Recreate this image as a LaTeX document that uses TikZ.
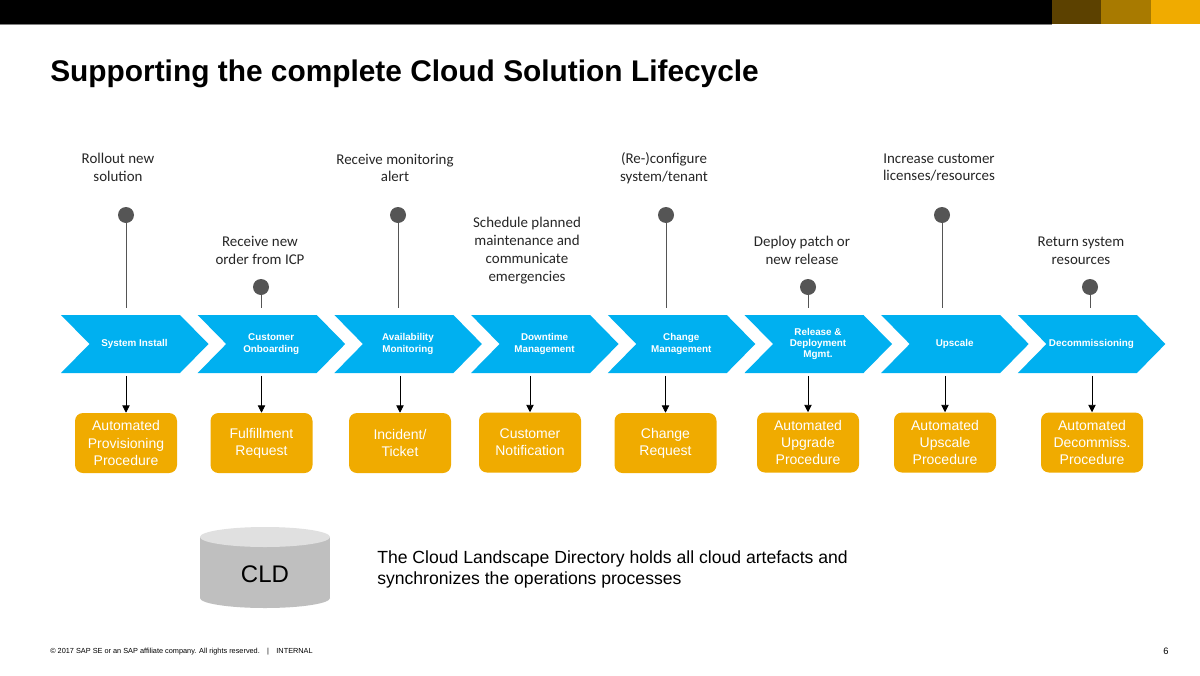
\documentclass[tikz,border=0pt]{standalone}
\usepackage{fontspec}
\setmainfont{Liberation Sans}
\newfontfamily\labelfont{Carlito}
\usetikzlibrary{positioning, arrows.meta}

\definecolor{sapblue}{HTML}{00B0F0}
\definecolor{sapgold}{HTML}{F0AB00}
\definecolor{sapbrown}{HTML}{5C4100}
\definecolor{sapochre}{HTML}{A87A00}
\definecolor{knobgrey}{HTML}{555555}
\definecolor{textgrey}{HTML}{262626}
\definecolor{cylbody}{HTML}{BFBFBF}
\definecolor{cyltop}{HTML}{E0E0E0}

\begin{document}
\begin{tikzpicture}[
        x=0.75pt, y=-0.75pt,
        chevron/.style={fill=sapblue},
        phase/.style={text=white, font=\bfseries\fontsize{7.4}{8.4}\selectfont, align=center,
                minimum width=67.5pt, minimum height=43.5pt, inner sep=0pt},
        task/.style={fill=sapgold, rounded corners=6pt, minimum width=76.5pt, minimum height=45pt,
                text=white, font=\fontsize{10.5}{12.8}\selectfont, align=center, inner sep=0pt},
        trigger/.style={font=\labelfont\fontsize{11.2}{13.3}\selectfont, text=textgrey, align=center},
        knob/.style={circle, fill=knobgrey, minimum size=12pt, inner sep=0pt},
        stem/.style={draw=knobgrey, line width=0.6pt, shorten >=5pt},
        feeds/.style={-{Triangle[width=5.5pt,length=5.5pt]}, line width=0.6pt, shorten <=2pt}
    ]

    \useasboundingbox (0,0) rectangle (1200,675);
    \fill[white] (0,0) rectangle (1200,675);

    % header bar
    \fill[black] (0,0) rectangle (1052,24);
    \fill[sapbrown] (1052,0) rectangle (1101,24);
    \fill[sapochre] (1101,0) rectangle (1151,24);
    \fill[sapgold] (1151,0) rectangle (1200,24);
    \draw[gray, line width=0.6pt] (0,24.3) -- (1052,24.3);

    \node[anchor=base west, inner sep=0pt, font=\bfseries\fontsize{22.4}{26}\selectfont] (title) at (50,81)
        {Supporting the complete Cloud Solution Lifecycle};

    % chevron outlines
    \foreach \i in {0,...,7} {
        \fill[chevron] ({61+136.7*\i},315) -- ++(119,0) -- ++(28.5,29) -- ++(-28.5,29)
            -- ++(-119,0) -- ++(28.5,-29) -- cycle;
    }

    % phases
    \node[phase] (install) at (134.5,344) {System Install};
    \node[phase] (onboard) at (271.2,344) {Customer\\Onboarding};
    \node[phase] (monitor) at (407.9,344) {Availability\\Monitoring};
    \node[phase] (downtime) at (544.6,344) {Downtime\\Management};
    \node[phase] (change) at (681.3,344) {Change\\Management};
    \node[phase] (release) at (818,344) {Release \&\\Deployment\\Mgmt.};
    \node[phase] (upscale) at (954.7,344) {Upscale};
    \node[phase] (decomm) at (1091.4,344) {Decommissioning};

    % procedures below the phases
    \node[task] (install-task) at (126,443) {Automated\\Provisioning\\Procedure};
    \node[task] (onboard-task) at (261.5,443) {Fulfillment\\Request};
    \node[task] (monitor-task) at (400,443) {Incident/\\Ticket};
    \node[task] (downtime-task) at (530,442.5) {Customer\\Notification};
    \node[task] (change-task) at (665.5,443) {Change\\Request};
    \node[task] (release-task) at (808,442.5) {Automated\\Upgrade\\Procedure};
    \node[task] (upscale-task) at (945,442.5) {Automated\\Upscale\\Procedure};
    \node[task] (decomm-task) at (1092,442.5) {Automated\\Decommiss.\\Procedure};

    \draw[feeds] (install.south -| install-task) -- (install-task);
    \draw[feeds] (onboard.south -| onboard-task) -- (onboard-task);
    \draw[feeds] (monitor.south -| monitor-task) -- (monitor-task);
    \draw[feeds] (downtime.south -| downtime-task) -- (downtime-task);
    \draw[feeds] (change.south -| change-task) -- (change-task);
    \draw[feeds] (release.south -| release-task) -- (release-task);
    \draw[feeds] (upscale.south -| upscale-task) -- (upscale-task);
    \draw[feeds] (decomm.south -| decomm-task) -- (decomm-task);

    % triggers above the phases
    \node[knob] (install-knob) at (126,215) {};
    \node[knob] (onboard-knob) at (261,287) {};
    \node[knob] (monitor-knob) at (398,215) {};
    \node[knob] (change-knob) at (666,215) {};
    \node[knob] (release-knob) at (808,287) {};
    \node[knob] (upscale-knob) at (942,215) {};
    \node[knob] (decomm-knob) at (1090,287) {};

    \draw[stem] (install-knob) -- (install.north -| install-knob);
    \draw[stem] (onboard-knob) -- (onboard.north -| onboard-knob);
    \draw[stem] (monitor-knob) -- (monitor.north -| monitor-knob);
    \draw[stem] (change-knob) -- (change.north -| change-knob);
    \draw[stem] (release-knob) -- (release.north -| release-knob);
    \draw[stem] (upscale-knob) -- (upscale.north -| upscale-knob);
    \draw[stem] (decomm-knob) -- (decomm.north -| decomm-knob);

    \node[trigger] (install-why) at (118,167.5) {Rollout new\\solution};
    \node[trigger] (onboard-why) at (260,250.5) {Receive new\\order from ICP};
    \node[trigger] (monitor-why) at (395,168) {Receive monitoring\\alert};
    \node[trigger] (downtime-why) at (527,250.5) {Schedule planned\\maintenance and\\communicate\\emergencies};
    \node[trigger] (change-why) at (664,168) {(Re-)configure\\system/tenant};
    \node[trigger] (release-why) at (802,250.5) {Deploy patch or\\new release};
    \node[trigger] (upscale-why) at (939,167.5) {Increase customer\\licenses/resources};
    \node[trigger] (decomm-why) at (1081,250.5) {Return system\\resources};

    % landscape directory
    \fill[cylbody] (265,598) ellipse[x radius=65, y radius=10];
    \fill[cylbody] (200,537) rectangle (330,598);
    \fill[cyltop] (265,537) ellipse[x radius=65, y radius=10];
    \node[font=\fontsize{18}{20}\selectfont] (cld) at (265,574) {CLD};
    \node[anchor=west, inner sep=0pt, align=left, font=\fontsize{13.2}{15.75}\selectfont] (cld-note) at (377,569.5)
        {The Cloud Landscape Directory holds all cloud artefacts and\\synchronizes the operations processes};

    % footer
    \node[anchor=base west, font=\fontsize{5.5}{6.5}\selectfont, inner sep=0pt] (footer) at (50,653)
        {\textcopyright{} 2017 SAP SE or an SAP affiliate company. All rights reserved.\quad|\quad INTERNAL};
    \node[font=\fontsize{7}{8}\selectfont] (page) at (1166,651) {6};

\end{tikzpicture}
\end{document}
